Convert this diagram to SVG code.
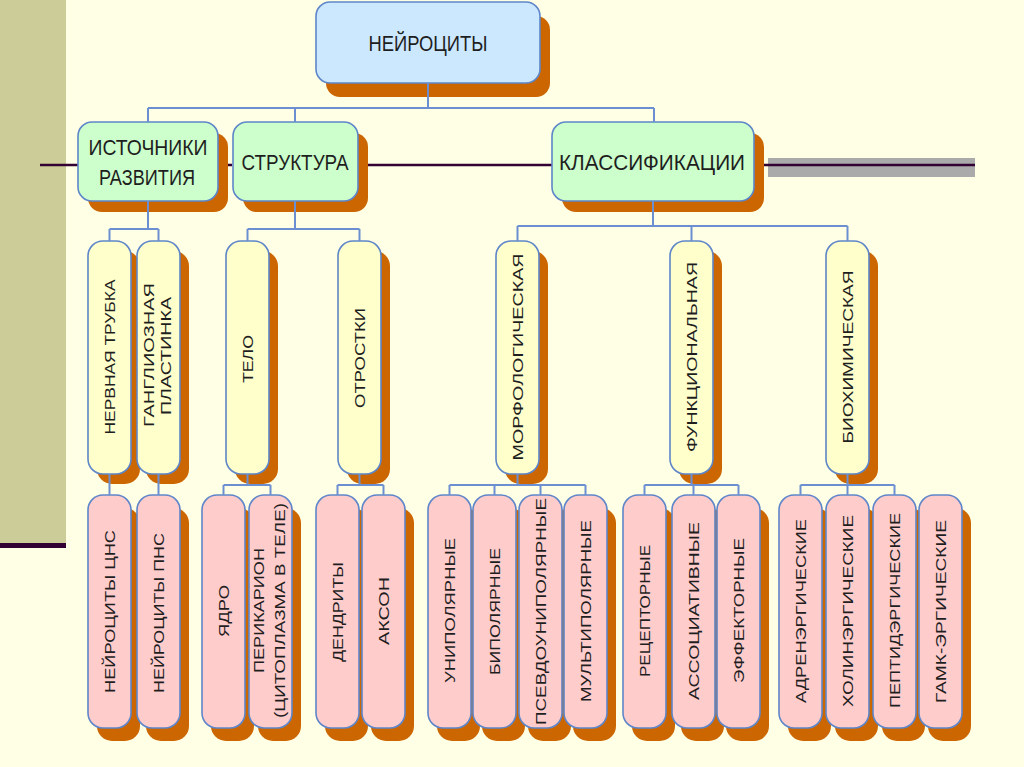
<svg xmlns="http://www.w3.org/2000/svg" width="1024" height="767" viewBox="0 0 1024 767">
<style>
.sh{fill:#CC6600}
.b{stroke:#5E86C9;stroke-width:1.6}
.top{fill:#CCE8FF}
.g{fill:#CCFFCC}
.y{fill:#FFFFCC}
.p{fill:#FFCCCC}
.t{font-family:"Liberation Sans",Arial,sans-serif;fill:#1E1E1E;text-anchor:middle}
.h{font-size:22px}
.v{font-size:15px}
.c{fill:none;stroke:#6C8FD2;stroke-width:2}
.dk{stroke:#330033;stroke-width:2.5;fill:none}
</style>
<rect x="0" y="0" width="1024" height="767" fill="#FFFFE5"/>
<rect x="0" y="0" width="66" height="544" fill="#CCCC99"/>
<rect x="0" y="543" width="66" height="5" fill="#330033"/>
<rect x="768" y="158" width="207" height="19" fill="#AAAAAA"/>
<path class="dk" d="M40 165H78M228 165H232M368 165H552M764 165H975"/>

<g id="n-top">
<rect class="sh" x="326" y="16" width="224" height="81" rx="14"/>
<rect class="top b" x="316" y="2" width="224" height="81" rx="14"/>
<text class="t h" x="428" y="51" textLength="119" lengthAdjust="spacingAndGlyphs">НЕЙРОЦИТЫ</text>
</g>

<g id="n-src">
<rect class="sh" x="88" y="133" width="140" height="79" rx="14"/>
<rect class="g b" x="78" y="122" width="140" height="79" rx="14"/>
<text class="t h" x="148" y="155" textLength="119" lengthAdjust="spacingAndGlyphs">ИСТОЧНИКИ</text>
<text class="t h" x="147" y="185" textLength="96" lengthAdjust="spacingAndGlyphs">РАЗВИТИЯ</text>
</g>
<g id="n-str">
<rect class="sh" x="243" y="133" width="125" height="79" rx="14"/>
<rect class="g b" x="233" y="122" width="125" height="79" rx="14"/>
<text class="t h" x="295" y="170" textLength="107" lengthAdjust="spacingAndGlyphs">СТРУКТУРА</text>
</g>
<g id="n-cls">
<rect class="sh" x="562" y="133" width="202" height="79" rx="14"/>
<rect class="g b" x="552" y="122" width="202" height="79" rx="14"/>
<text class="t h" x="652" y="170" textLength="186" lengthAdjust="spacingAndGlyphs">КЛАССИФИКАЦИИ</text>
</g>

<g id="n-tube">
<rect class="sh" x="97" y="251" width="43" height="233" rx="15"/>
<rect class="y b" x="88" y="241" width="43" height="233" rx="15"/>
<text class="t v" transform="translate(109.5 357) rotate(-90)" y="5.3" textLength="155" lengthAdjust="spacingAndGlyphs">НЕРВНАЯ ТРУБКА</text>
</g>
<g id="n-gang">
<rect class="sh" x="146" y="251" width="43" height="233" rx="15"/>
<rect class="y b" x="137" y="241" width="43" height="233" rx="15"/>
<text class="t v" transform="translate(148.5 355) rotate(-90)" y="5.3" textLength="144" lengthAdjust="spacingAndGlyphs">ГАНГЛИОЗНАЯ</text>
<text class="t v" transform="translate(166 356) rotate(-90)" y="5.3" textLength="118" lengthAdjust="spacingAndGlyphs">ПЛАСТИНКА</text>
</g>
<g id="n-body">
<rect class="sh" x="235" y="251" width="43" height="233" rx="15"/>
<rect class="y b" x="226" y="241" width="43" height="233" rx="15"/>
<text class="t v" transform="translate(247.5 359) rotate(-90)" y="5.3" textLength="48" lengthAdjust="spacingAndGlyphs">ТЕЛО</text>
</g>
<g id="n-proc">
<rect class="sh" x="347" y="251" width="43" height="233" rx="15"/>
<rect class="y b" x="338" y="241" width="43" height="233" rx="15"/>
<text class="t v" transform="translate(359.5 358) rotate(-90)" y="5.3" textLength="100" lengthAdjust="spacingAndGlyphs">ОТРОСТКИ</text>
</g>
<g id="n-morph">
<rect class="sh" x="505" y="251" width="43" height="233" rx="15"/>
<rect class="y b" x="496" y="241" width="43" height="233" rx="15"/>
<text class="t v" transform="translate(517.5 357) rotate(-90)" y="5.3" textLength="207" lengthAdjust="spacingAndGlyphs">МОРФОЛОГИЧЕСКАЯ</text>
</g>
<g id="n-func">
<rect class="sh" x="679" y="251" width="43" height="233" rx="15"/>
<rect class="y b" x="670" y="241" width="43" height="233" rx="15"/>
<text class="t v" transform="translate(691.5 357) rotate(-90)" y="5.3" textLength="190" lengthAdjust="spacingAndGlyphs">ФУНКЦИОНАЛЬНАЯ</text>
</g>
<g id="n-bio">
<rect class="sh" x="835" y="251" width="43" height="233" rx="15"/>
<rect class="y b" x="826" y="241" width="43" height="233" rx="15"/>
<text class="t v" transform="translate(847.5 357) rotate(-90)" y="5.3" textLength="173" lengthAdjust="spacingAndGlyphs">БИОХИМИЧЕСКАЯ</text>
</g>

<g id="n-cns">
<rect class="sh" x="97" y="508" width="43" height="233" rx="15"/>
<rect class="p b" x="88" y="495" width="43" height="233" rx="15"/>
<text class="t v" transform="translate(109.5 611.5) rotate(-90)" y="5.3" textLength="163" lengthAdjust="spacingAndGlyphs">НЕЙРОЦИТЫ ЦНС</text>
</g>
<g id="n-pns">
<rect class="sh" x="146" y="508" width="43" height="233" rx="15"/>
<rect class="p b" x="137" y="495" width="43" height="233" rx="15"/>
<text class="t v" transform="translate(158.5 613) rotate(-90)" y="5.3" textLength="160" lengthAdjust="spacingAndGlyphs">НЕЙРОЦИТЫ ПНС</text>
</g>
<g id="n-nuc">
<rect class="sh" x="211" y="508" width="43" height="233" rx="15"/>
<rect class="p b" x="202" y="495" width="43" height="233" rx="15"/>
<text class="t v" transform="translate(223.5 611) rotate(-90)" y="5.3" textLength="52" lengthAdjust="spacingAndGlyphs">ЯДРО</text>
</g>
<g id="n-peri">
<rect class="sh" x="258" y="508" width="43" height="233" rx="15"/>
<rect class="p b" x="249" y="495" width="43" height="233" rx="15"/>
<text class="t v" transform="translate(259 610.5) rotate(-90)" y="5.3" textLength="125" lengthAdjust="spacingAndGlyphs">ПЕРИКАРИОН</text>
<text class="t v" transform="translate(279.5 610.5) rotate(-90)" y="5.3" textLength="215" lengthAdjust="spacingAndGlyphs">(ЦИТОПЛАЗМА В ТЕЛЕ)</text>
</g>
<g id="n-dend">
<rect class="sh" x="325" y="508" width="43" height="233" rx="15"/>
<rect class="p b" x="316" y="495" width="43" height="233" rx="15"/>
<text class="t v" transform="translate(337.5 612) rotate(-90)" y="5.3" textLength="100" lengthAdjust="spacingAndGlyphs">ДЕНДРИТЫ</text>
</g>
<g id="n-axon">
<rect class="sh" x="371" y="508" width="43" height="233" rx="15"/>
<rect class="p b" x="362" y="495" width="43" height="233" rx="15"/>
<text class="t v" transform="translate(383.5 611) rotate(-90)" y="5.3" textLength="68" lengthAdjust="spacingAndGlyphs">АКСОН</text>
</g>
<g id="n-uni">
<rect class="sh" x="437" y="508" width="43" height="233" rx="15"/>
<rect class="p b" x="428" y="495" width="43" height="233" rx="15"/>
<text class="t v" transform="translate(449.5 610.5) rotate(-90)" y="5.3" textLength="145" lengthAdjust="spacingAndGlyphs">УНИПОЛЯРНЫЕ</text>
</g>
<g id="n-bip">
<rect class="sh" x="482" y="508" width="43" height="233" rx="15"/>
<rect class="p b" x="473" y="495" width="43" height="233" rx="15"/>
<text class="t v" transform="translate(494.5 611.5) rotate(-90)" y="5.3" textLength="127" lengthAdjust="spacingAndGlyphs">БИПОЛЯРНЫЕ</text>
</g>
<g id="n-pseudo">
<rect class="sh" x="528" y="508" width="43" height="233" rx="15"/>
<rect class="p b" x="519" y="495" width="43" height="233" rx="15"/>
<text class="t v" transform="translate(540.5 611.5) rotate(-90)" y="5.3" textLength="227" lengthAdjust="spacingAndGlyphs">ПСЕВДОУНИПОЛЯРНЫЕ</text>
</g>
<g id="n-multi">
<rect class="sh" x="573" y="508" width="43" height="233" rx="15"/>
<rect class="p b" x="564" y="495" width="43" height="233" rx="15"/>
<text class="t v" transform="translate(585.5 611) rotate(-90)" y="5.3" textLength="182" lengthAdjust="spacingAndGlyphs">МУЛЬТИПОЛЯРНЫЕ</text>
</g>
<g id="n-rec">
<rect class="sh" x="632" y="508" width="43" height="233" rx="15"/>
<rect class="p b" x="623" y="495" width="43" height="233" rx="15"/>
<text class="t v" transform="translate(644.5 611) rotate(-90)" y="5.3" textLength="132" lengthAdjust="spacingAndGlyphs">РЕЦЕПТОРНЫЕ</text>
</g>
<g id="n-assoc">
<rect class="sh" x="681" y="508" width="43" height="233" rx="15"/>
<rect class="p b" x="672" y="495" width="43" height="233" rx="15"/>
<text class="t v" transform="translate(693.5 611) rotate(-90)" y="5.3" textLength="178" lengthAdjust="spacingAndGlyphs">АССОЦИАТИВНЫЕ</text>
</g>
<g id="n-eff">
<rect class="sh" x="726" y="508" width="43" height="233" rx="15"/>
<rect class="p b" x="717" y="495" width="43" height="233" rx="15"/>
<text class="t v" transform="translate(738.5 610.5) rotate(-90)" y="5.3" textLength="145" lengthAdjust="spacingAndGlyphs">ЭФФЕКТОРНЫЕ</text>
</g>
<g id="n-adr">
<rect class="sh" x="788" y="508" width="43" height="233" rx="15"/>
<rect class="p b" x="779" y="495" width="43" height="233" rx="15"/>
<text class="t v" transform="translate(800.5 611) rotate(-90)" y="5.3" textLength="184" lengthAdjust="spacingAndGlyphs">АДРЕНЭРГИЧЕСКИЕ</text>
</g>
<g id="n-chol">
<rect class="sh" x="835" y="508" width="43" height="233" rx="15"/>
<rect class="p b" x="826" y="495" width="43" height="233" rx="15"/>
<text class="t v" transform="translate(847.5 611) rotate(-90)" y="5.3" textLength="192" lengthAdjust="spacingAndGlyphs">ХОЛИНЭРГИЧЕСКИЕ</text>
</g>
<g id="n-pept">
<rect class="sh" x="882" y="508" width="43" height="233" rx="15"/>
<rect class="p b" x="873" y="495" width="43" height="233" rx="15"/>
<text class="t v" transform="translate(894.5 610.5) rotate(-90)" y="5.3" textLength="195" lengthAdjust="spacingAndGlyphs">ПЕПТИДЭРГИЧЕСКИЕ</text>
</g>
<g id="n-gaba">
<rect class="sh" x="928" y="508" width="43" height="233" rx="15"/>
<rect class="p b" x="919" y="495" width="43" height="233" rx="15"/>
<text class="t v" transform="translate(940.5 611.5) rotate(-90)" y="5.3" textLength="183" lengthAdjust="spacingAndGlyphs">ГАМК-ЭРГИЧЕСКИЕ</text>
</g>

<g id="connectors" class="c">
<path d="M428 83V108M148 108H654M148 108V122M295 108V122M654 108V122"/>
<path d="M148 201V229M109.5 229H158.5M109.5 229V241M158.5 229V241"/>
<path d="M295 201V229M247.5 229H359.5M247.5 229V241M359.5 229V241"/>
<path d="M653 201V226M517.5 226H847.5M517.5 226V241M691.5 226V241M847.5 226V241"/>
<path d="M109.5 474V495M158.5 474V495"/>
<path d="M247.5 474V485M223.5 485H270.5M223.5 485V495M270.5 485V495"/>
<path d="M359.5 474V485M337.5 485H383.5M337.5 485V495M383.5 485V495"/>
<path d="M517.5 474V485M449.5 485H585.5M449.5 485V495M494.5 485V495M540.5 485V495M585.5 485V495"/>
<path d="M691.5 474V485M644.5 485H738.5M644.5 485V495M693.5 485V495M738.5 485V495"/>
<path d="M847.5 474V485M800.5 485H894.5M800.5 485V495M847.5 485V495M894.5 485V495"/>
</g>
</svg>
